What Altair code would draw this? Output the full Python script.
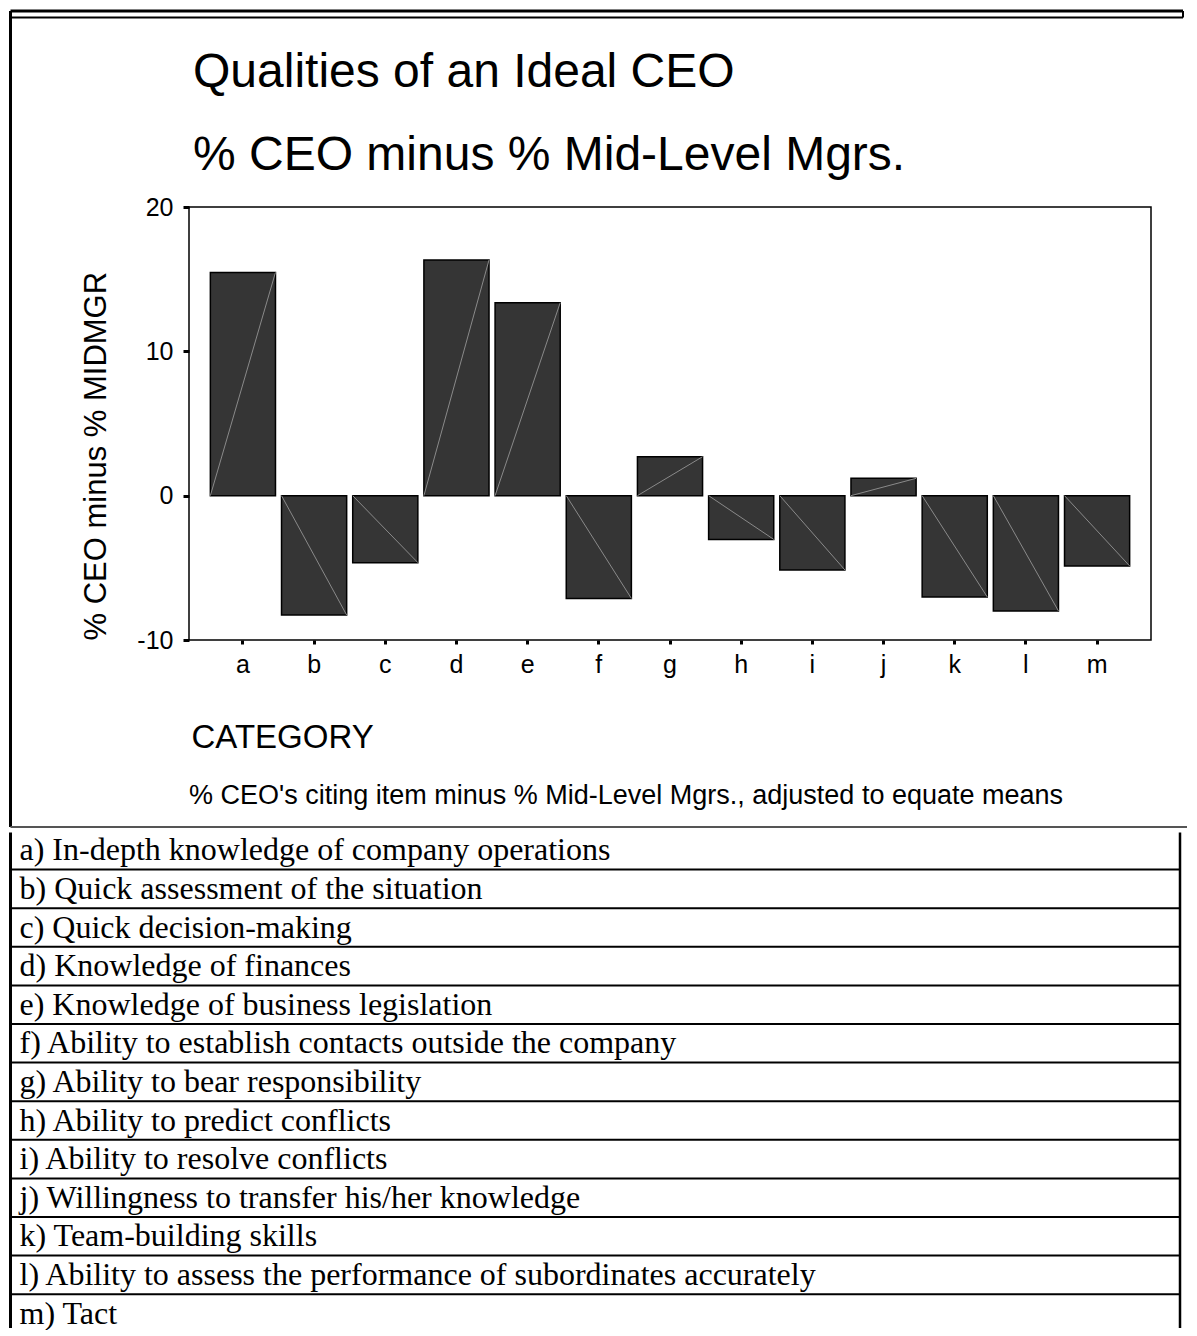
import altair as alt
import pandas as pd

# ---------------- data ----------------
TITLE_LINES = ["Qualities of an Ideal CEO", "% CEO minus % Mid-Level Mgrs."]
CATEGORIES = ["a", "b", "c", "d", "e", "f", "g", "h", "i", "j", "k", "l", "m"]
VALUES = [15.47, -8.27, -4.64, 16.33, 13.37, -7.12, 2.70, -3.03, -5.15, 1.20, -7.02, -7.99, -4.87]
Y_TICKS = [-10, 0, 10, 20]
Y_TITLE = "% CEO minus % MIDMGR"
X_TITLE = "CATEGORY"
NOTE = ["% CEO's citing item minus % Mid-Level Mgrs., adjusted to equate means"]
ITEMS = [
    "a) In-depth knowledge of company operations",
    "b) Quick assessment of the situation",
    "c)  Quick decision-making",
    "d)  Knowledge of finances",
    "e)  Knowledge of business legislation",
    "f)  Ability to establish contacts outside the company",
    "g) Ability to bear responsibility",
    "h) Ability to predict conflicts",
    "i) Ability to resolve conflicts",
    "j) Willingness to transfer his/her knowledge",
    "k)  Team-building skills",
    "l) Ability to assess the performance of subordinates accurately",
    "m) Tact",
]

SANS = "Liberation Sans"
SERIF = "Liberation Serif"

PW, PH = 962, 433          # bar plot area
L = -178.5                 # page frame, relative to plot origin
R = 994                    # right end of the top strip
TR = 991                   # right border of the table
BOT = 620                  # separator between chart and table
TH = 497                   # table panel height
ROW_H = 38.6

bars_df = pd.DataFrame({"cat": CATEGORIES, "value": VALUES})
t1_df = pd.DataFrame({"t": [TITLE_LINES[0]]})
t2_df = pd.DataFrame({"t": [TITLE_LINES[1]]})
note_df = pd.DataFrame({"note": NOTE})
deco_df = pd.DataFrame({"k": [0]})
rows_df = pd.DataFrame({"row": list(range(len(ITEMS))), "label": ITEMS})

xscale = alt.Scale(domain=CATEGORIES, paddingInner=0.085, paddingOuter=0.3)
yscale = alt.Scale(domain=[-10, 20], nice=False, zero=False)

xaxis = alt.Axis(
    title=X_TITLE, labelAngle=0, labelFont=SANS, labelFontSize=25, labelColor="black",
    labelPadding=8, tickSize=4, tickWidth=3, tickColor="black", domain=False,
    titleFont=SANS, titleFontSize=33, titleFontWeight="normal", titleColor="black",
    titleAnchor="start", titleAlign="left", titleX=2, titlePadding=44,
)
yaxis = alt.Axis(
    values=Y_TICKS, title=Y_TITLE, grid=False, domain=False, tickSize=6, tickWidth=3,
    tickColor="black", labelFont=SANS, labelFontSize=25, labelColor="black", labelPadding=10,
    labelExpr="'' + datum.value",
    titleFont=SANS, titleFontSize=31, titleFontWeight="normal", titleColor="black",
    titleAnchor="start", titlePadding=24,
)

bars = alt.Chart(bars_df).mark_bar(color="#353535", stroke="black", strokeWidth=1.5).encode(
    x=alt.X("cat:N", scale=xscale, axis=xaxis),
    y=alt.Y("value:Q", scale=yscale, axis=yaxis),
)

diag = alt.Chart(bars_df).mark_rule(color="#8a8a8a", strokeWidth=1).encode(
    x=alt.X("cat:N", scale=xscale, bandPosition=1),
    x2=alt.X2("cat", bandPosition=0),
    y=alt.Y("value:Q", scale=yscale),
    y2=alt.datum(0),
)

frame_left = alt.Chart(deco_df).mark_rule(color="black", strokeWidth=3).encode(
    x=alt.value(L), y=alt.value(-196), y2=alt.value(BOT))
top1 = alt.Chart(deco_df).mark_rule(color="black", strokeWidth=3).encode(
    x=alt.value(L), x2=alt.value(R), y=alt.value(-196))
top2 = alt.Chart(deco_df).mark_rule(color="black", strokeWidth=2).encode(
    x=alt.value(L), x2=alt.value(R), y=alt.value(-189.5))
top_r = alt.Chart(deco_df).mark_rule(color="black", strokeWidth=2).encode(
    x=alt.value(R), y=alt.value(-196), y2=alt.value(-189.5))
sep = alt.Chart(deco_df).mark_rule(color="#555555", strokeWidth=2).encode(
    x=alt.value(L), x2=alt.value(998), y=alt.value(BOT))

title1 = alt.Chart(t1_df).mark_text(
    font=SANS, fontSize=48, align="left", baseline="alphabetic", color="black"
).encode(x=alt.value(4), y=alt.value(-120.5), text="t:N")
title2 = alt.Chart(t2_df).mark_text(
    font=SANS, fontSize=48, align="left", baseline="alphabetic", color="black"
).encode(x=alt.value(4), y=alt.value(-37.5), text="t:N")
note = alt.Chart(note_df).mark_text(
    font=SANS, fontSize=27, align="left", baseline="alphabetic", color="black"
).encode(x=alt.value(0), y=alt.value(596.5), text="note:N")

bar_panel = alt.layer(
    frame_left, top1, top2, top_r, sep, title1, title2, bars, diag, note
).properties(
    width=PW, height=PH,
    view=alt.ViewBackground(stroke="black", strokeWidth=1.5),
)

# ---------------- table ----------------
rscale = alt.Scale(domain=[0, TH / ROW_H], nice=False, zero=False, reverse=True)

row_text = alt.Chart(rows_df).transform_calculate(mid="datum.row + 0.5").mark_text(
    font=SERIF, fontSize=32, align="left", baseline="middle", color="black"
).encode(x=alt.value(L + 9), y=alt.Y("mid:Q", scale=rscale, axis=None), text="label:N")

row_lines = alt.Chart(rows_df).transform_filter("datum.row >= 1").mark_rule(
    color="black", strokeWidth=2
).encode(x=alt.value(L), x2=alt.value(TR), y=alt.Y("row:Q", scale=rscale, axis=None))

tleft = alt.Chart(deco_df).mark_rule(color="black", strokeWidth=3).encode(
    x=alt.value(L), y=alt.value(1.5), y2=alt.value(TH))
tright = alt.Chart(deco_df).mark_rule(color="black", strokeWidth=2.5).encode(
    x=alt.value(TR), y=alt.value(1.5), y2=alt.value(TH))

table = alt.layer(row_lines, tleft, tright, row_text).properties(
    width=PW, height=TH,
    view=alt.ViewBackground(stroke="transparent"),
)

chart = alt.vconcat(bar_panel, table, spacing=0).properties(
    padding=0, background="white"
)

chart.save("out.html", embed_options={"renderer": "svg", "actions": False})
